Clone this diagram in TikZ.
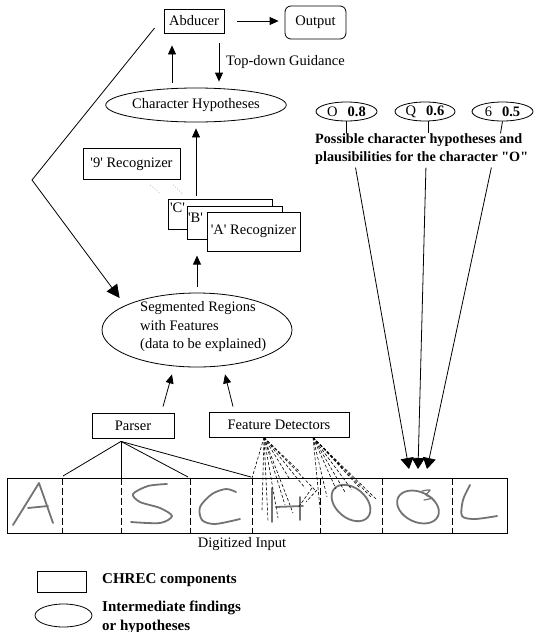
\documentclass[tikz,border=0pt]{standalone}
\usepackage{fontspec}
\setmainfont{Liberation Serif}
\usetikzlibrary{arrows.meta,shapes.geometric,calc}
\newcommand\sq{\textquotesingle}
\newcommand\dq{\textquotedbl}

\begin{document}
\begin{tikzpicture}[x=1pt,y=-1pt,
  every node/.style={font=\fontsize{14.5}{18}\selectfont, inner sep=0pt},
  box/.style={draw, line width=0.8pt, fill=white},
  hyp/.style={draw, ellipse, line width=0.8pt},
  conn/.style={line width=0.8pt},
  arr/.style={conn, -{Triangle[length=9pt,width=8pt]}},
  bigarr/.style={conn, -{Triangle[length=13pt,width=13pt]}},
  headarr/.style={conn, -{Triangle[length=11pt,width=13pt]}},
  boldtext/.style={font=\fontsize{15}{18.5}\selectfont\bfseries},
  ink/.style={draw=black!55, line width=1.8pt, line cap=round, line join=round},
  divider/.style={conn, dash pattern=on 7pt off 3pt},
  probe/.style={line width=0.6pt, dash pattern=on 3pt off 2pt},
]
\useasboundingbox (0,0) rectangle (538,632);

% ---- top: abducer, output, hypotheses
\node[box, minimum width=60pt, minimum height=24pt] (abd) at (194,21) {Abducer};
\node[box, rounded corners=6pt, minimum width=61pt, minimum height=33pt] (out) at (315.5,22.5) {Output};
\node[hyp, minimum width=148pt, minimum height=34pt] (chy) at (196,105) {Character Hypotheses};
\node[anchor=west] (tdg) at (226,62) {Top-down Guidance};

\draw[arr, shorten <=13pt, shorten >=6pt] (abd.east) -- (abd.east -| out.west);
\draw[arr, shorten <=5pt, shorten >=12pt] (172,0 |- chy.north) -- (172,0 |- abd.south);
\draw[arr, shorten <=10pt, shorten >=6pt] (219,0 |- abd.south) -- (219,0 |- chy.north);

% ---- recognizers
\node[box, minimum width=97pt, minimum height=31pt] (r9) at (131.5,164) {\sq9\sq{} Recognizer};
\draw[gray!60, dotted, line width=0.8pt] ($(r9.south east)+(-30,5)$) -- ++(10,9);
\draw[gray!60, dotted, line width=0.8pt] ($(r9.south east)+(-7,5)$) -- ++(9,9);

\node[box, minimum width=104pt, minimum height=30pt] (rc) at (220,214) {};
\node (lc) at (177.5,207.5) {\sq C\sq};
\node[box, minimum width=95pt, minimum height=33pt] (rb) at (234.5,222.5) {};
\node (lb) at (195.5,218) {\sq B\sq};
\node[box, minimum width=93pt, minimum height=39pt] (ra) at (253.5,231.5) {\sq A\sq{} Recognizer};

\draw[arr, shorten <=3pt, shorten >=6pt] (chy.south |- rc.north) -- (chy.south);

% ---- segmented regions
\node[hyp, minimum width=190pt, minimum height=74pt] (sr) at (197,330) {};
\node[anchor=west, align=left, font=\fontsize{14.5}{18.5}\selectfont] (srt) at (140,327)
  {Segmented Regions\\with Features\\(data to be explained)};
\draw[arr, shorten <=6pt] (sr.north) -- ++(0,-37);

% feedback path from the abducer down to the segmented regions
\coordinate (dstart) at ($(abd.west)+(-9,7)$);
\coordinate (dkink) at (32,180);
\draw[bigarr] (dstart) -- (dkink) -- ($(sr.west)+(18,-32)$);

% ---- parser and feature detectors
\node[box, minimum width=82pt, minimum height=25pt] (parser) at (133,425.5) {Parser};
\node[box, minimum width=140pt, minimum height=25pt] (fd) at (279,424.5) {Feature Detectors};
\draw[arr] ($(parser.north)+(30,-6)$) -- ($(sr.south)+(-25,7)$);
\draw[arr] ($(fd.north)+(-46,-5)$) -- ($(sr.south)+(28,7)$);

% ---- digitized input strip
\node[draw, line width=0.8pt, minimum width=500pt, minimum height=55pt] (strip) at (257,505.5) {};
\foreach \x in {62,121,190,252,320,382,452}
  \draw[divider] (\x,0 |- strip.north) -- (\x,0 |- strip.south);
\node (dig) at (242,544) {Digitized Input};

% handwritten letters
\draw[ink] (13,525) -- (39,483) -- (53,523);
\draw[ink] (28,508) -- (48,506);
\draw[ink] plot[smooth] coordinates {(167,484) (148,486) (133,494) (140,502) (160,508) (172,516) (160,523) (131,522)};
\draw[ink] plot[smooth] coordinates {(236,492) (226,489) (212,494) (200,507) (202,520) (215,524) (240,519)};
\draw[ink] (272,488) -- (272,522);
\draw[ink] (300,497) -- (300,520);
\draw[ink] (276,507) -- (303,506);
\draw[ink, rotate around={-40:(351,503)}] (351,503) ellipse (22pt and 15pt);
\draw[ink, rotate around={-25:(418,507)}] (418,507) ellipse (22pt and 15pt);
\draw[ink, line width=1.2pt] plot[smooth] coordinates {(422,491) (430,490) (426,495) (432,498) (424,500)};
\draw[ink] plot[smooth] coordinates {(470,485) (463,500) (462,516) (475,519) (497,516)};

% parser segmentation lines
\coordinate (psrc) at ($(parser.south)+(-12,3)$);
\draw[conn] (psrc) -- (63,476);
\draw[conn] (psrc) -- (psrc |- strip.north);
\draw[conn] (psrc) -- (188,477);
\draw[conn] (psrc) -- (251,477);

% feature detector probes
\coordinate (fs1) at ($(fd.south)+(-15,0)$);
\coordinate (fs2) at ($(fd.south)+(34,0)$);
\foreach \p in {(252,478),(262,510),(268,521),(278,518),(285,505),(293,513),(305,488),(316,491),(300,472),(289,478)}
  \draw[probe] (fs1) -- \p;
\draw[probe] (317,490) -- (306,502);
\draw[probe] (312,488) -- (298,508);
\foreach \p in {(320,508),(327,497),(336,489),(345,492),(352,490),(360,488),(372,498),(377,500),(344,470)}
  \draw[probe] (fs2) -- \p;

% ---- character hypotheses for the letter O
\node[hyp, minimum width=61pt, minimum height=19pt] (e1) at (346.5,111.5) {O\hspace{10pt}\textbf{0.8}};
\node[hyp, minimum width=60pt, minimum height=19pt] (e2) at (425,111.5) {Q\hspace{10pt}\textbf{0.6}};
\node[hyp, minimum width=61pt, minimum height=19pt] (e3) at (502.5,111.5) {6\hspace{10pt}\textbf{0.5}};
\node[anchor=west, align=left, font=\fontsize{14.2}{18}\selectfont\bfseries] (ptxt) at (315,149)
  {Possible character hypotheses and\\plausibilities for the character \dq O\dq};
\draw[conn] (e1.south) -- (e1.south |- ptxt.north);
\draw[conn] ($(e2.south)+(3,0)$) -- ($(e2.south |- ptxt.north)+(3,0)$);
\draw[conn] (e3.south) -- ($(e3.south |- ptxt.north)+(-2,0)$);

\coordinate (t1) at (409,469);
\coordinate (t2) at (418,469);
\coordinate (t3) at (427,469);
\draw[headarr, shorten <=3pt] (355,0 |- ptxt.south) -- (t1);
\draw[headarr, shorten <=3pt] (426,0 |- ptxt.south) -- (t2);
\draw[headarr, shorten <=3pt] (492,0 |- ptxt.south) -- (t3);

% ---- legend
\node[box, minimum width=49pt, minimum height=21pt] (lgbox) at (61.5,581.5) {};
\node[boldtext, anchor=west] (lgboxt) at (102,580) {CHREC components};
\node[hyp, minimum width=57pt, minimum height=23pt] (lgell) at (63.5,615.5) {};
\node[anchor=west, align=left, font=\fontsize{15}{19}\selectfont\bfseries] (lgellt) at (102,617)
  {Intermediate findings\\or hypotheses};
\end{tikzpicture}
\end{document}
